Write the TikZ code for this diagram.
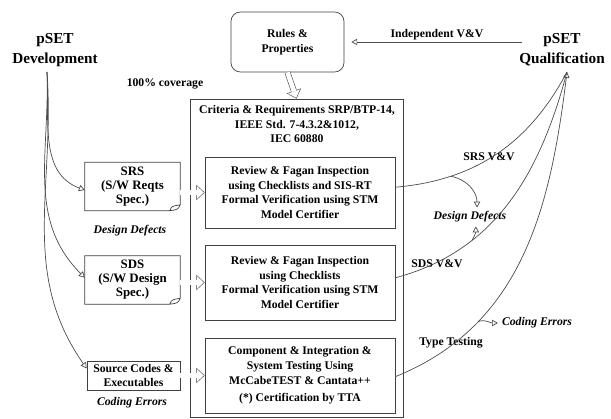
\documentclass[tikz,border=0pt]{standalone}
\usepackage{fontspec}
\setmainfont{Liberation Serif}
\usetikzlibrary{arrows.meta}

\tikzset{
	txt/.style={font=\bfseries\fontsize{10}{12.6}\selectfont, align=center},
	box/.style={txt, draw=black!75, line width=0.6pt, inner sep=0pt},
	docbox/.style={font=\bfseries\fontsize{11}{12}\selectfont, align=center, inner sep=0pt, minimum width=2.85cm, minimum height=1.44cm},
	defect/.style={font=\bfseries\itshape\fontsize{10}{12}\selectfont},
	flow/.style={draw=black!70, line width=0.6pt, -{Triangle[open,length=5pt,width=5.5pt]}},
	hollow/.style={draw=black!70, line width=5pt, -{Triangle[length=7pt,width=13pt,line width=0pt]},
		postaction={draw=white, line width=4pt, shorten >=0.75pt, -{Triangle[length=5.75pt,width=10.7pt,line width=0pt]}}},
}

\begin{document}
\begin{tikzpicture}[x=0.03cm, y=0.03cm]
	\useasboundingbox (0,0) rectangle (611,419);

	% the two ends
	\node[font=\bfseries\fontsize{13}{17}\selectfont, align=center] (dev) at (55,369) {pSET\\Development};
	\node[font=\bfseries\fontsize{13}{17}\selectfont, align=center] (qual) at (562,369) {pSET\\Qualification};
	\coordinate (devb) at (47,347);
	\coordinate (qualb) at (567,347);

	\node[box, rounded corners=8pt, minimum width=3.39cm, minimum height=1.8cm] (rules) at (287.5,377) {Rules \&\\Properties};
	\node[txt] (indep) at (437,384) {Independent V\&V};
	\coordinate (ivs) at (522,377);
	\node[txt] (cov) at (165,335) {100\% coverage};

	% big frame and its three boxes
	\node[draw=black!75, line width=0.6pt, minimum width=6.39cm, minimum height=9.54cm] (frame) at (296.5,161) {};
	\node[txt, font=\bfseries\fontsize{10}{12}\selectfont] (crit) at (297,295) {Criteria \& Requirements SRP/BTP-14,\\IEEE Std. 7-4.3.2\&1012,\\IEC 60880};
	\node[box, minimum width=5.7cm, minimum height=2.13cm] (rev1) at (300,226.5) {Review \& Fagan Inspection\\using Checklists and SIS-RT\\Formal Verification using STM\\Model Certifier};
	\node[box, minimum width=5.7cm, minimum height=2.25cm] (rev2) at (300,136.5) {Review \& Fagan Inspection\\using Checklists\\Formal Verification using STM\\Model Certifier};
	\node[box, minimum width=5.7cm, minimum height=2.25cm] (rev3) at (300,43.5) {Component \& Integration \&\\System Testing Using\\McCabeTEST \& Cantata++\\[2pt](*) Certification by TTA};

	% documents on the left
	\node[docbox] (srs) at (132.5,232.5) {SRS\\(S/W Reqts\\Spec.)};
	\node[docbox] (sds) at (132.5,139) {SDS\\(S/W Design\\Spec.)};
	\node[box, minimum width=2.79cm, minimum height=0.87cm, font=\bfseries\fontsize{10}{12}\selectfont] (src) at (133.5,43.5) {Source Codes \&\\Executables};
	\foreach \d in {srs,sds}
		\draw[draw=black!75, line width=0.6pt] (\d.north west) -- (\d.north east) -- ([yshift=5pt]\d.south east)
			.. controls ([xshift=-2pt,yshift=1pt]\d.south east) .. ([xshift=-9pt]\d.south east) -- (\d.south west) -- cycle
			([yshift=5pt]\d.south east) .. controls ([xshift=-7pt,yshift=4pt]\d.south east) .. ([xshift=-9pt]\d.south east);

	\node[defect] (dd1) at (130,188) {Design Defects};
	\node[defect] (ce1) at (132,16) {Coding Errors};
	\node[defect] (dd2) at (470,202) {Design Defects};
	\node[defect] (ce2) at (537,96) {Coding Errors};
	\node[txt] (srsvv) at (489,262) {SRS V\&V};
	\node[txt] (sdsvv) at (437,155) {SDS V\&V};
	\node[txt] (tt) at (451,76) {Type Testing};

	% hollow arrows
	\draw[hollow] (rules.south) -- (frame.north);
	\draw[hollow] (srs.east |- rev1.west) -- (rev1.west);
	\draw[hollow] (sds.east |- rev2.west) -- (rev2.west);
	\draw[hollow] (src.east) -- (src.east -| rev3.west);

	\draw[flow] (ivs) -- ([xshift=6pt]rules.east);

	% development side
	\draw[flow] (devb) to[out=-87,in=160] ([yshift=-3pt]srs.west);
	\draw[flow] (devb) to[out=-88,in=135] ([yshift=2pt]sds.west);
	\draw[flow] (devb) to[out=-86,in=125] ([yshift=6pt]src.west);

	% qualification side
	\draw[draw=black!70, line width=0.6pt] ([yshift=4.5pt]rev1.east) to[out=5,in=-118] coordinate[pos=0.25] (p1) (qualb);
	\draw[draw=black!70, line width=0.6pt] ([yshift=4pt]rev2.east) to[out=15,in=-105] coordinate[pos=0.3] (p2) (qualb);
	\draw[flow] ([yshift=-1pt]rev3.east) to[out=22,in=-97] coordinate[pos=0.27] (p3) (qualb);
	\draw[flow] (p1) to[out=-10,in=90] ([xshift=6pt]dd2.north);
	\draw[flow] (p2) to[out=60,in=-90] ([xshift=5pt]dd2.south);
	\draw[flow] (p3) to[out=20,in=180] (ce2.west);
\end{tikzpicture}
\end{document}
